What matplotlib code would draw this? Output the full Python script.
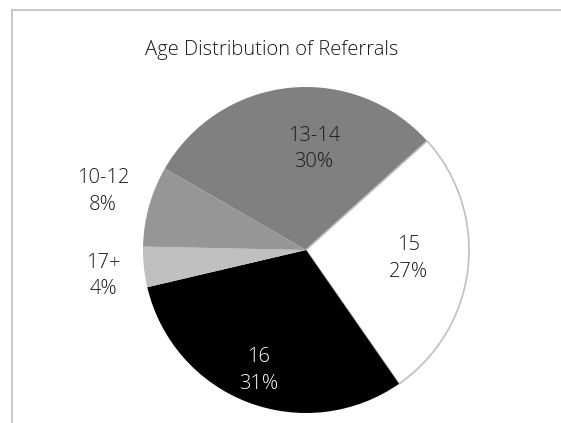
import matplotlib
matplotlib.use("Agg")
import matplotlib.pyplot as plt
from matplotlib.lines import Line2D

categories = ["13-14", "15", "16", "17+", "10-12"]
values = [30, 27, 31, 4, 8]
pct_labels = ["30%", "27%", "31%", "4%", "8%"]
display_names = ["13-14", "15", "16", "17+", "10-12"]

colors = ["#808080", "#ffffff", "#000000", "#c0c0c0", "#969696"]
text_colors = ["#1a1a1a", "#1a1a1a", "#ffffff", "#1a1a1a", "#1a1a1a"]
label_pos = [(0.05, 0.62), (0.63, -0.05), (-0.29, -0.74), (-1.245, -0.16), (-1.245, 0.36)]

plt.rcParams['font.family'] = ['Open Sans', 'DejaVu Sans']

fig = plt.figure(figsize=(5.61, 4.23), dpi=100)
ax = fig.add_axes([0, 0, 1, 1])
wedges, _ = ax.pie(values, colors=colors, startangle=150, counterclock=False,
                   radius=1.0, center=(0, 0), frame=True)
for w, c in zip(wedges, colors):
    if c == "#ffffff":
        w.set_edgecolor("#bfbfbf")
        w.set_linewidth(1.2)
    else:
        w.set_linewidth(0)

for name, p, (x, y), tc in zip(display_names, pct_labels, label_pos, text_colors):
    ax.text(x, y, name + "\n" + p, ha="center", va="center", fontsize=14.5,
            color=tc, linespacing=1.45, fontweight="light")

ax.set_xlim(-306 / 163, 255 / 163)
ax.set_ylim(-173 / 163, 250 / 163)
ax.set_aspect("auto")
ax.axis("off")

fig.text(272 / 561, 1 - 50 / 423, "Age Distribution of Referrals", ha="center",
         va="center", fontsize=14.5, color="#1a1a1a", fontweight="light")

fig.add_artist(Line2D([12 / 561, 12 / 561], [0, 1 - 10 / 423], color="#bfbfbf", lw=1.2,
                      transform=fig.transFigure))
fig.add_artist(Line2D([12 / 561, 1], [1 - 10 / 423, 1 - 10 / 423], color="#bfbfbf", lw=1.2,
                      transform=fig.transFigure))

fig.savefig("out.png", dpi=100)
